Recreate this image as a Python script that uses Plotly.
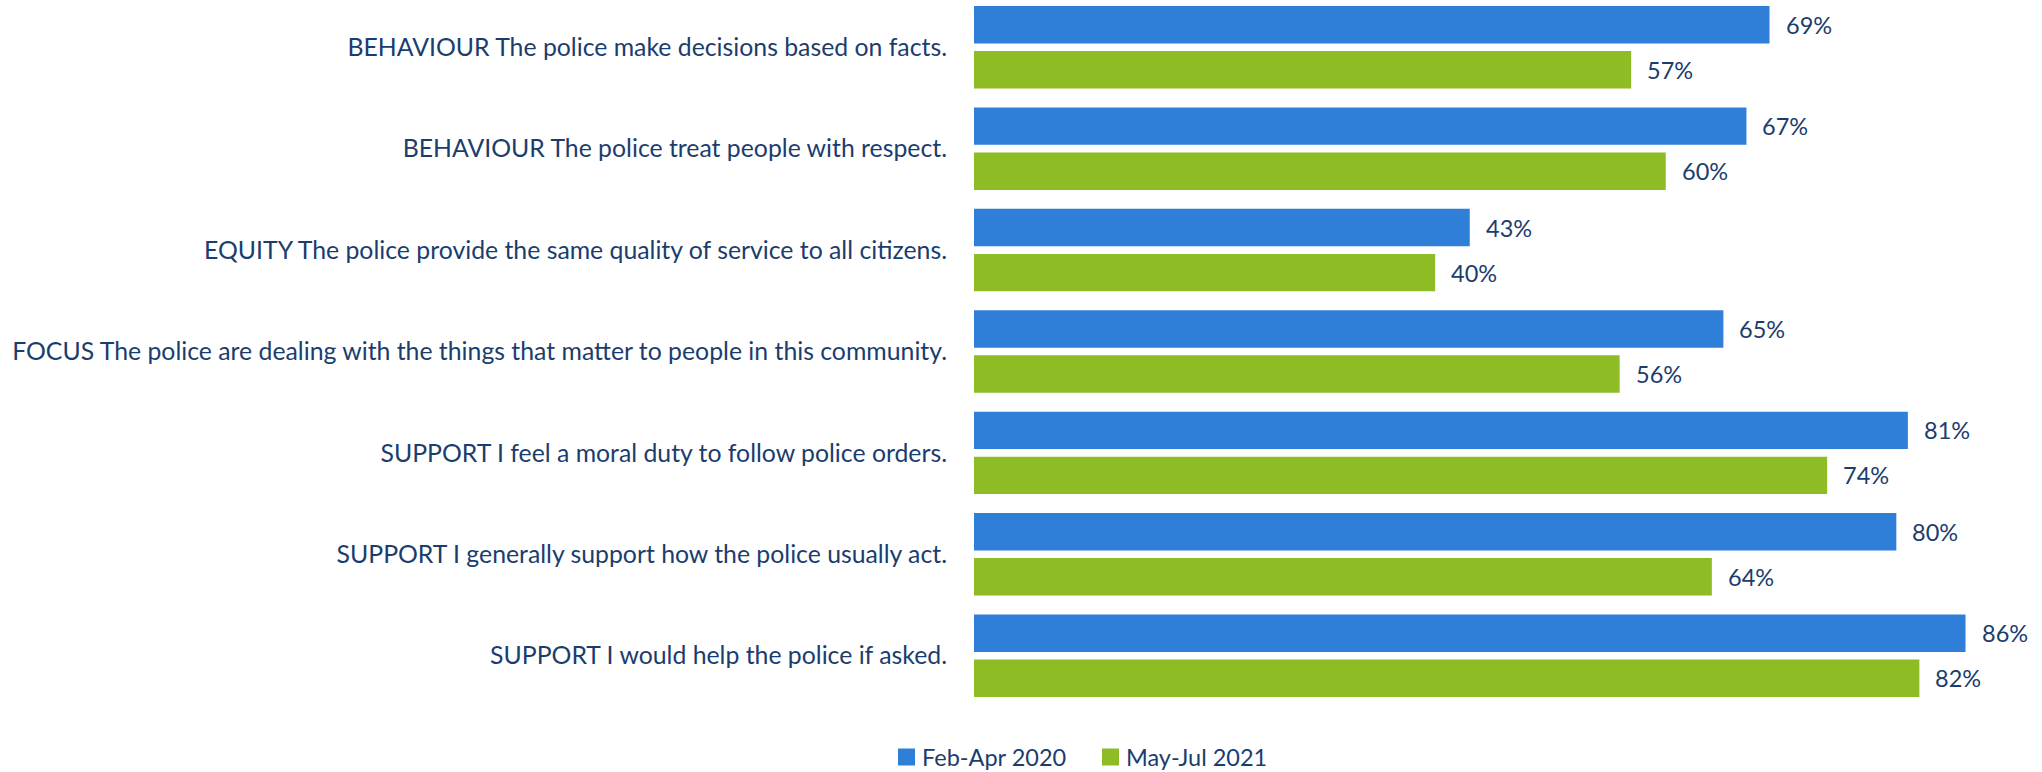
import plotly.graph_objects as go

# Survey statements and agreement shares (%)
statements = [
    "BEHAVIOUR The police make decisions based on facts.",
    "BEHAVIOUR The police treat people with respect.",
    "EQUITY The police provide the same quality of service to all citizens.",
    "FOCUS The police are dealing with the things that matter to people in this community.",
    "SUPPORT I feel a moral duty to follow police orders.",
    "SUPPORT I generally support how the police usually act.",
    "SUPPORT I would help the police if asked.",
]
feb_apr_2020 = [69, 67, 43, 65, 81, 80, 86]
may_jul_2021 = [57, 60, 40, 56, 74, 64, 82]

series = [
    ("Feb-Apr 2020", feb_apr_2020, "#2F7FD9"),
    ("May-Jul 2021", may_jul_2021, "#8DBC24"),
]

TEXT = "#1B3D6E"
FONT = "Lato"

W, H = 2042, 772
ML, MR, MT, MB = 974, 20, 0, 66
PW, PH = W - ML - MR, H - MT - MB

fig = go.Figure()
for name, vals, color in series:
    fig.add_trace(go.Bar(
        y=statements, x=vals, orientation="h", name=name,
        marker=dict(color=color, line=dict(width=0)),
        showlegend=False, hoverinfo="x+y",
    ))

# value labels just past the end of each bar
slot_px = 45.0
for i, (name, vals, color) in enumerate(series):
    shift = slot_px / 2 if i == 0 else -slot_px / 2
    for s, v in zip(statements, vals):
        fig.add_annotation(
            x=v, y=s, text=f"{v}%", showarrow=False,
            xanchor="left", yanchor="middle", xshift=14, yshift=shift,
            font=dict(family=FONT, size=23.5, color=TEXT),
        )

# legend below the chart: colour swatch + series name
def px_x(px):
    return (px - ML) / PW

def px_y(py):
    return (H - MB - py) / PH

legend_pos = [898, 1102]
legend_cy = 757
sw = 17
for (name, vals, color), lx in zip(series, legend_pos):
    fig.add_shape(
        type="rect", xref="paper", yref="paper",
        x0=px_x(lx), x1=px_x(lx + sw),
        y0=px_y(legend_cy + sw / 2), y1=px_y(legend_cy - sw / 2),
        fillcolor=color, line=dict(width=0),
    )
    fig.add_annotation(
        xref="paper", yref="paper", x=px_x(lx + sw + 5), y=px_y(legend_cy),
        text=name, showarrow=False, xanchor="left", yanchor="middle",
        font=dict(family=FONT, size=23.5, color=TEXT),
    )

fig.update_layout(
    width=W, height=H,
    margin=dict(l=ML, r=MR, t=MT, b=MB),
    paper_bgcolor="white", plot_bgcolor="white",
    barmode="group", bargap=0.112, bargroupgap=0.169,
    font=dict(family=FONT, size=24.8, color=TEXT),
    showlegend=False,
    xaxis=dict(range=[0, 90.9], visible=False, showgrid=False, zeroline=False),
    yaxis=dict(
        type="category", categoryorder="array", categoryarray=statements,
        range=[6.496, -0.466], showgrid=False, zeroline=False, showline=False,
        ticks="", ticklabelstandoff=26,
        tickfont=dict(family=FONT, size=24.8, color=TEXT),
    ),
)

fig.write_html("out.html")
